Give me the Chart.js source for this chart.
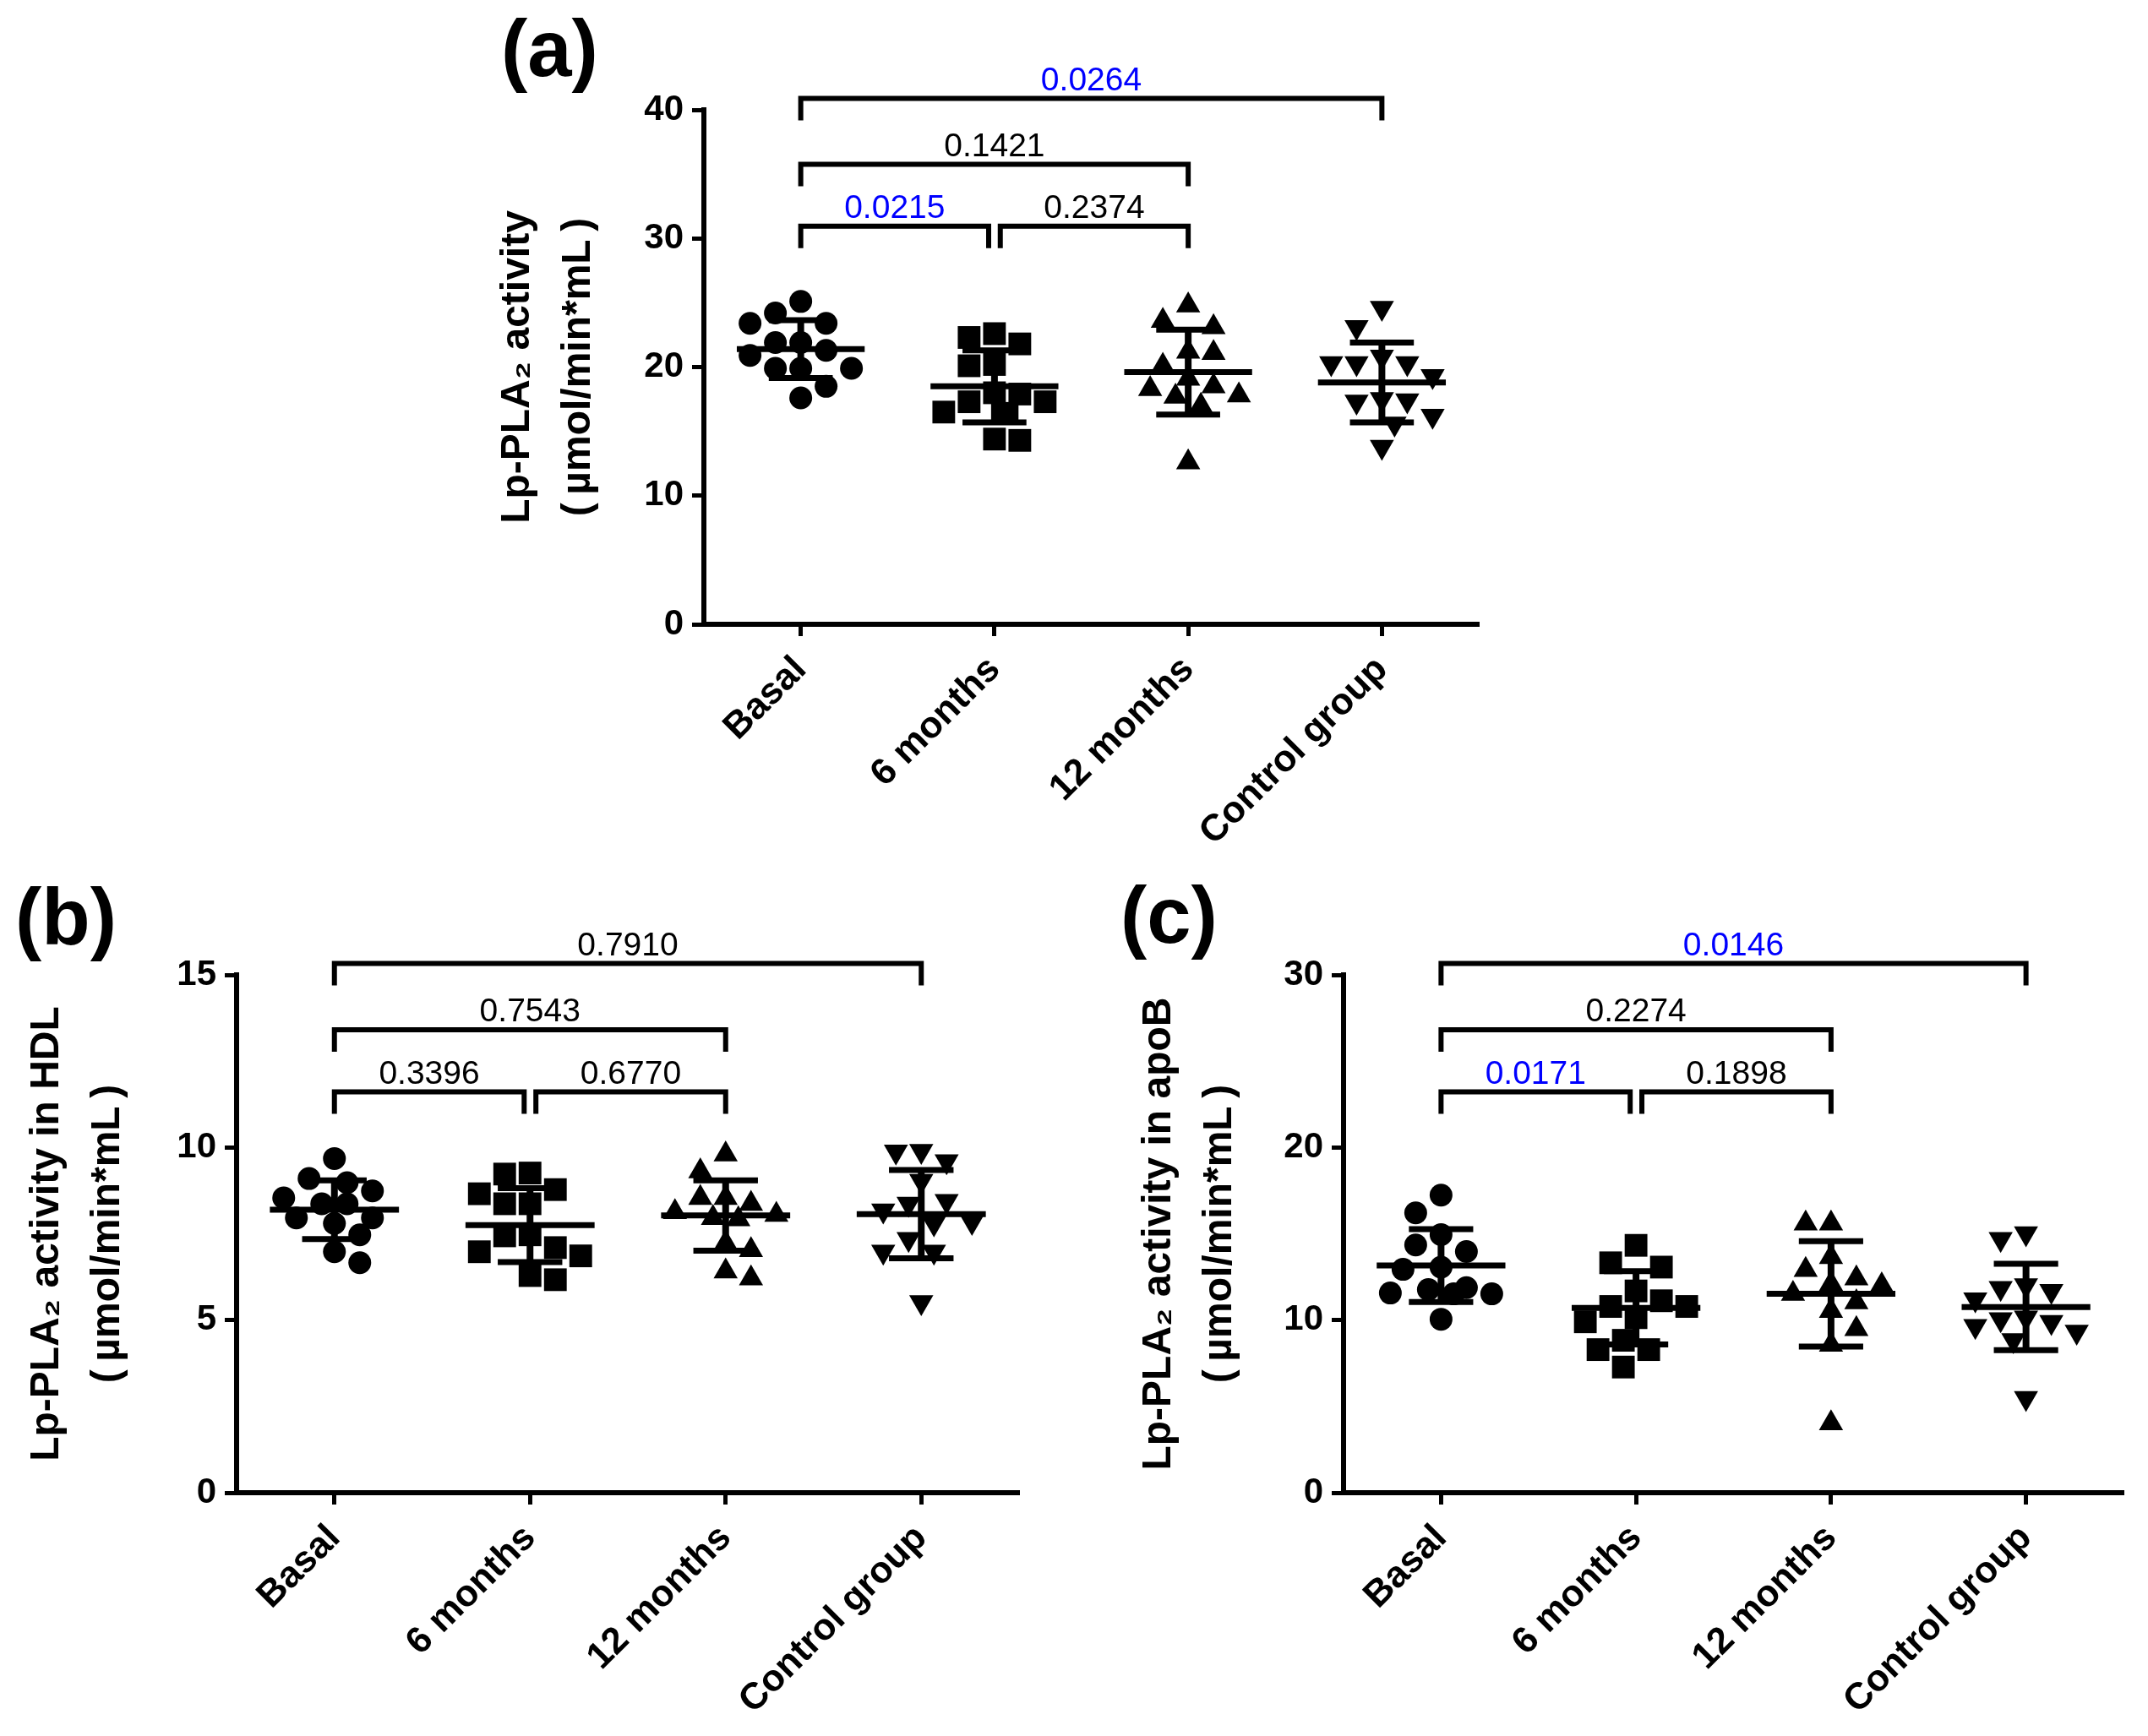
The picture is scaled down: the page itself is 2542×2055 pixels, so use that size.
<!DOCTYPE html>
<html>
<head>
<meta charset="utf-8">
<title>Lp-PLA2 activity</title>
<script src="https://cdn.jsdelivr.net/npm/chart.js@4.4.1/dist/chart.umd.min.js"></script>
<style>
  html, body { margin: 0; padding: 0; background: #fff; }
  #page { position: relative; width: 2542px; height: 2055px; background: #fff; overflow: hidden; }
  #page canvas { position: absolute; }
</style>
</head>
<body>
<div id="page">
  <canvas id="chartA" width="1240" height="1045" style="left:560px;top:0px"></canvas>
  <canvas id="chartB" width="1240" height="1025" style="left:0px;top:1030px"></canvas>
  <canvas id="chartC" width="1242" height="1025" style="left:1300px;top:1030px"></canvas>
</div>
<script>
const FONT = "'Liberation Sans', Arial, Helvetica, sans-serif";
Chart.defaults.font.family = FONT;
Chart.defaults.color = "#000";

const groups = ["Basal", "6 months", "12 months", "Control group"];
const pairs = [[0, 1], [1, 2], [0, 2], [0, 3]];
const unitLine = "(\u2009\u00b5mol/min*mL\u2009)";

// (a) total Lp-PLA2 activity
const totalBasal = [24.2, 25.1, 23.4, 23.4, 21.9, 21.9, 20.9, 21.3, 19.9, 19.9, 19.9, 18.5, 17.6];
const total6m = [21.8, 22.6, 22.3, 20.1, 20.2, 18.0, 17.9, 17.3, 17.3, 16.4, 16.5, 14.3, 14.4];
const total12m = [24.8, 23.6, 23.1, 21.1, 21.2, 20.1, 19.1, 18.3, 18.5, 17.8, 17.7, 17.0, 12.6];
const totalControl = [24.6, 23.1, 20.8, 20.3, 20.3, 20.3, 19.3, 17.4, 17.3, 17.5, 16.2, 15.6, 13.8];
const totalMean = [21.4, 18.5, 19.6, 18.8];
const totalSd = [2.25, 2.8, 3.3, 3.1];
const totalP = ["0.0215", "0.2374", "0.1421", "0.0264"];
const totalTicks = [0, 10, 20, 30, 40];

// (b) Lp-PLA2 activity in HDL
const hdlBasal = [9.68, 9.1, 8.98, 8.74, 8.54, 8.37, 8.37, 7.96, 7.8, 7.96, 7.47, 6.98, 6.66];
const hdl6m = [9.23, 9.26, 8.66, 8.37, 8.37, 8.78, 7.47, 7.44, 7.1, 6.86, 6.98, 6.17, 6.29];
const hdl12m = [9.8, 9.31, 8.54, 8.54, 8.37, 8.05, 8.13, 7.92, 7.96, 7.23, 7.03, 6.41, 6.21];
const hdlControl = [9.88, 9.9, 9.6, 9.03, 8.45, 8.37, 8.17, 7.84, 7.8, 7.35, 6.98, 6.98, 5.52];
const hdlMean = [8.2, 7.75, 8.03, 8.07];
const hdlSd = [0.85, 1.07, 1.02, 1.28];
const hdlP = ["0.3396", "0.6770", "0.7543", "0.7910"];
const hdlTicks = [0, 5, 10, 15];

// (c) Lp-PLA2 activity in apoB
const apobBasal = [17.24, 16.21, 14.95, 14.35, 13.97, 13.07, 12.94, 11.77, 11.52, 11.57, 11.52, 11.88, 10.05];
const apob6m = [14.33, 13.07, 13.32, 11.69, 11.12, 10.79, 10.14, 10.79, 9.9, 8.29, 8.29, 8.83, 7.28];
const apob12m = [15.6, 15.6, 13.65, 12.91, 12.42, 12.1, 12.01, 11.52, 11.03, 10.54, 9.48, 8.58, 4.02];
const apobControl = [15.03, 14.7, 11.85, 12.01, 11.69, 11.2, 10.14, 10.05, 9.89, 9.65, 9.32, 8.83, 5.48];
const apobMean = [13.16, 10.71, 11.52, 10.76];
const apobSd = [2.11, 2.12, 3.05, 2.5];
const apobP = ["0.0171", "0.1898", "0.2274", "0.0146"];
const apobTicks = [0, 10, 20, 30];

const markers = [
  { style: "circle", radius: 13.5, rotation: 0 },
  { style: "rect", radius: 19, rotation: 0 },
  { style: "triangle", radius: 16.5, rotation: 0 },
  { style: "triangle", radius: 16.5, rotation: 180 }
];

// bracket height as a fraction of the axis max, by how many groups it spans
const bracketLevel = [0, 0.774, 0.894, 1.022];

function decor(panel) {
  return {
    id: "decor",
    afterDatasetsDraw(chart) {
      const { ctx } = chart;
      const x = chart.scales.x, y = chart.scales.y;
      ctx.save();
      ctx.strokeStyle = "#000";
      panel.mean.forEach((m, i) => {
        const cx = x.getPixelForValue(i);
        const meanHalf = x.getPixelForValue(i + 0.33) - cx;
        const capHalf = x.getPixelForValue(i + 0.165) - cx;
        const top = y.getPixelForValue(m + panel.sd[i]);
        const bottom = y.getPixelForValue(m - panel.sd[i]);
        const mid = y.getPixelForValue(m);
        ctx.lineWidth = 8;
        ctx.beginPath();
        ctx.moveTo(cx, top);
        ctx.lineTo(cx, bottom);
        ctx.stroke();
        ctx.lineWidth = 7;
        ctx.beginPath();
        ctx.moveTo(cx - meanHalf, mid); ctx.lineTo(cx + meanHalf, mid);
        ctx.moveTo(cx - capHalf, top); ctx.lineTo(cx + capHalf, top);
        ctx.moveTo(cx - capHalf, bottom); ctx.lineTo(cx + capHalf, bottom);
        ctx.stroke();
      });
      ctx.restore();
    },
    afterDraw(chart) {
      const { ctx } = chart;
      const x = chart.scales.x, y = chart.scales.y;
      ctx.save();
      ctx.lineWidth = 6;
      ctx.strokeStyle = "#000";
      ctx.lineJoin = "miter";
      ctx.textAlign = "center";
      ctx.textBaseline = "alphabetic";
      ctx.font = "39px " + FONT;
      pairs.forEach(([a, b], k) => {
        const span = b - a;
        const shared = idx => pairs.some(([c, d], j) => j !== k && d - c === span && (c === idx || d === idx));
        const x1 = x.getPixelForValue(a + (shared(a) ? 0.03 : 0));
        const x2 = x.getPixelForValue(b - (shared(b) ? 0.03 : 0));
        const yl = y.getPixelForValue(panel.yMax * bracketLevel[span]);
        ctx.beginPath();
        ctx.moveTo(x1, yl + 26);
        ctx.lineTo(x1, yl);
        ctx.lineTo(x2, yl);
        ctx.lineTo(x2, yl + 26);
        ctx.stroke();
        const p = panel.p[k];
        ctx.fillStyle = parseFloat(p) < 0.05 ? "#0000ff" : "#000";
        ctx.fillText(p, (x1 + x2) / 2, yl - 10);
      });
      ctx.fillStyle = "#000";
      ctx.textAlign = "left";
      ctx.textBaseline = "middle";
      ctx.font = "bold 94px " + FONT;
      ctx.fillText(panel.letter, panel.letterX, panel.letterY);
      ctx.restore();
    }
  };
}

// scatter-dot arrangement: each point goes to the free slot nearest the
// group centre, within a fixed half-width; crowded rows accept some overlap
function spread(chart) {
  const xs = chart.scales.x, ys = chart.scales.y;
  const pxPerGroup = xs.getPixelForValue(1) - xs.getPixelForValue(0);
  const gap = 30, step = 15, maxOff = 0.31 * pxPerGroup;
  const slots = [0];
  for (let k = 1; k * step <= maxOff; k++) slots.push(k * step, -k * step);
  chart.data.datasets.forEach((ds, g) => {
    const placed = [];
    const order = ds.data.map((p, i) => i).sort((a, b) => ds.data[b].y - ds.data[a].y);
    order.forEach((i, n) => {
      const py = ys.getPixelForValue(ds.data[i].y);
      const side = n % 2 ? -1 : 1;
      let best = 0, bestDist = -1;
      for (const s of slots) {
        const cand = s * side;
        const d = placed.reduce((m, q) => Math.min(m, Math.hypot(q.x - cand, q.y - py)), Infinity);
        if (d >= gap) { best = cand; break; }
        if (d > bestDist) { bestDist = d; best = cand; }
      }
      placed.push({ x: best, y: py });
      ds.data[i].x = g + best / pxPerGroup;
    });
  });
  chart.update("none");
}

function makeChart(panel) {
  const datasets = panel.values.map((vals, g) => ({
    label: groups[g],
    data: vals.map(v => ({ x: g, y: v })),
    pointStyle: markers[g].style,
    pointRadius: markers[g].radius,
    pointRotation: markers[g].rotation,
    pointBackgroundColor: "#000",
    pointBorderWidth: 0,
    backgroundColor: "#000",
    borderColor: "#000",
    showLine: false
  }));

  const chart = new Chart(document.getElementById(panel.canvas), {
    type: "scatter",
    data: { datasets },
    options: {
      responsive: false,
      animation: false,
      events: [],
      layout: { padding: panel.padding },
      plugins: { legend: { display: false }, tooltip: { enabled: false } },
      scales: {
        x: {
          type: "linear",
          min: -0.5,
          max: 3.5,
          afterBuildTicks: s => { s.ticks = groups.map((g, i) => ({ value: i })); },
          afterFit: s => { s.height = panel.xAxisHeight; },
          ticks: {
            autoSkip: false,
            minRotation: 45,
            maxRotation: 45,
            padding: 14,
            color: "#000",
            font: { size: 44, weight: "bold" },
            callback: v => groups[v]
          },
          grid: { drawOnChartArea: false, tickLength: 14, tickWidth: 5, tickColor: "#000" },
          border: { display: true, width: 6, color: "#000" }
        },
        y: {
          min: 0,
          max: panel.yMax,
          afterBuildTicks: s => { s.ticks = panel.yTicks.map(v => ({ value: v })); },
          afterFit: s => { s.width = panel.yAxisWidth; },
          ticks: { padding: 10, color: "#000", font: { size: 42, weight: "bold" } },
          grid: { drawOnChartArea: false, tickLength: 14, tickWidth: 5, tickColor: "#000" },
          border: { display: true, width: 6, color: "#000" },
          title: {
            display: true,
            text: panel.yTitle,
            color: "#000",
            font: { size: 48, weight: "bold", lineHeight: "72px" },
            padding: { top: panel.titlePad, bottom: 0 }
          }
        }
      }
    },
    plugins: [decor(panel)]
  });
  spread(chart);
  return chart;
}

makeChart({
  canvas: "chartA",
  values: [totalBasal, total6m, total12m, totalControl],
  mean: totalMean, sd: totalSd, p: totalP,
  yMax: 40, yTicks: totalTicks,
  yTitle: ["Lp-PLA\u2082 activity", unitLine],
  letter: "(a)", letterX: 33, letterY: 64,
  padding: { top: 130, right: 50, bottom: 0, left: 0 },
  yAxisWidth: 273, xAxisHeight: 306, titlePad: 17
});

makeChart({
  canvas: "chartB",
  values: [hdlBasal, hdl6m, hdl12m, hdlControl],
  mean: hdlMean, sd: hdlSd, p: hdlP,
  yMax: 15, yTicks: hdlTicks,
  yTitle: ["Lp-PLA\u2082 activity in HDL", unitLine],
  letter: "(b)", letterX: 18, letterY: 62,
  padding: { top: 124, right: 34, bottom: 0, left: 0 },
  yAxisWidth: 280, xAxisHeight: 288, titlePad: 20
});

makeChart({
  canvas: "chartC",
  values: [apobBasal, apob6m, apob12m, apobControl],
  mean: apobMean, sd: apobSd, p: apobP,
  yMax: 30, yTicks: apobTicks,
  yTitle: ["Lp-PLA\u2082 activity in apoB", unitLine],
  letter: "(c)", letterX: 26, letterY: 60,
  padding: { top: 124, right: 29, bottom: 0, left: 0 },
  yAxisWidth: 290, xAxisHeight: 288, titlePad: 36
});
</script>
</body>
</html>
